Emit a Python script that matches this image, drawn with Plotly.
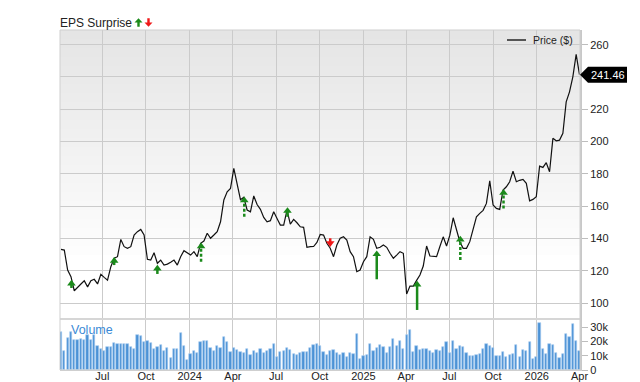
import plotly.graph_objects as go
import pandas as pd

# ---------------- data ----------------
dates = pd.date_range("2023-04-05", periods=157, freq="7D")

price = [
    133.2, 132.8, 120.4, 116.3, 107.6, 110.0, 111.8, 113.8, 110.0, 113.8,
    114.7, 111.8, 117.8, 115.9, 114.2, 122.5, 127.7, 128.7, 139.4, 134.9,
    133.9, 134.9, 142.1, 144.2, 145.6, 142.1, 127.1, 126.6, 131.1, 124.6,
    126.6, 123.5, 124.1, 125.2, 126.6, 123.5, 128.7, 132.4, 131.1, 129.7,
    131.8, 128.7, 137.0, 138.4, 143.2, 140.1, 142.1, 144.2, 150.3, 163.8,
    168.9, 171.0, 183.4, 173.0, 164.0, 165.5, 157.6, 156.5, 166.3, 161.0,
    158.0, 153.0, 150.3, 151.0, 156.5, 152.4, 148.3, 148.3, 157.6, 148.9,
    151.8, 149.7, 147.2, 146.9, 134.5, 134.9, 135.0, 137.5, 142.5, 142.1,
    137.0, 133.9, 128.7, 135.9, 140.1, 141.0, 139.0, 131.8, 128.7, 119.4,
    120.4, 125.6, 128.7, 141.0, 139.4, 133.9, 134.5, 135.9, 134.5, 130.8,
    127.7, 129.7, 131.8, 130.8, 105.6, 110.5, 110.5, 114.0, 117.3, 122.9,
    135.3, 129.1, 129.0, 128.7, 135.0, 141.0, 135.3, 142.0, 152.8, 145.2,
    138.0, 133.9, 133.9, 138.0, 146.3, 153.4, 155.5, 157.4, 161.7, 175.7,
    160.7, 158.6, 158.0, 170.0, 172.0, 175.1, 181.7, 175.1, 176.0, 176.6,
    174.1, 163.3, 164.2, 165.8, 184.8, 184.0, 186.9, 181.3, 202.0, 200.5,
    200.9, 205.1, 224.6, 230.8, 240.1, 254.0, 241.46,
]

volume_k = [
    26.3, 13.5, 22.4, 26.6, 21.2, 21.2, 21.9, 20.7, 24.2, 20.7,
    24.7, 16.5, 14.7, 13.1, 15.9, 15.9, 18.9, 18.2, 18.2, 18.2,
    18.2, 15.9, 14.7, 24.7, 23.5, 19.6, 20.0, 18.9, 14.7, 16.1,
    17.2, 13.5, 15.4, 8.4, 14.7, 14.7, 25.6, 17.0, 6.8, 11.2,
    13.3, 11.9,
    19.6, 20.0, 20.0, 15.4, 13.1, 16.5, 15.4, 23.1, 19.3, 12.4,
    15.6, 14.2, 12.6, 11.9, 14.9, 10.7, 13.3, 11.7, 14.5, 11.7,
    13.3, 14.5, 18.2, 9.1, 12.6, 13.1, 15.4, 14.2, 11.2, 10.7,
    11.9, 12.6, 12.6, 15.4, 17.2, 18.2, 16.8, 12.6, 10.7, 13.5,
    14.0,
    11.9, 10.5, 11.7, 9.3, 11.9, 11.4, 25.2, 7.7, 9.6, 10.3,
    18.2, 13.3, 15.4, 17.5, 15.9, 11.7, 16.3, 21.4, 16.8, 20.0,
    14.5, 24.5, 28.2, 12.8, 16.5, 14.2, 14.7, 14.7, 13.5, 11.9,
    14.0, 13.1, 15.9, 19.3, 11.7, 20.0,
    14.9, 16.5, 15.9, 11.9, 9.6, 9.6, 10.7, 11.2, 14.5, 18.2,
    16.8, 15.6, 9.6, 9.6, 12.8, 8.9, 10.7, 11.0, 17.7, 8.9,
    14.2, 13.1, 19.3, 7.7, 9.3, 32.9, 14.7, 11.4, 18.2, 17.7,
    12.1, 8.2, 11.4, 25.4, 22.8, 32.2, 20.5, 13.1,
]

# EPS surprise arrows: date, arrow head price, tail price, direction, dashed?
eps_dates = ["2023-04-27", "2023-07-26", "2023-10-25", "2024-01-25", "2024-04-25",
             "2024-07-25", "2024-10-23", "2025-01-29", "2025-04-24", "2025-07-24",
             "2025-10-23"]
eps_head = [114.2, 128.3, 123.5, 137.3, 165.8, 159.2, 134.9, 132.4, 113.6, 141.5, 170.4]
eps_tail = [109.3, 123.5, 118.0, 125.6, 153.4, 153.4, 140.1, 114.7, 95.7, 126.6, 158.6]
eps_dir = ["up", "up", "up", "up", "up", "up", "down", "up", "up", "up", "up"]
eps_dashed = [False, False, False, True, True, False, False, False, False, True, True]

x_tickvals = ["2023-07-01", "2023-10-01", "2024-01-01", "2024-04-01", "2024-07-01",
              "2024-10-01", "2025-01-01", "2025-04-01", "2025-07-01", "2025-10-01",
              "2026-01-01", "2026-04-01"]
x_ticktext = ["Jul", "Oct", "2024", "Apr", "Jul", "Oct", "2025", "Apr", "Jul", "Oct",
              "2026", "Apr"]
price_ticks = [100, 120, 140, 160, 180, 200, 220, 260]
price_hidden_grid = [240]
vol_ticks = [0, 10, 20, 30]
vol_ticktext = ["0", "10k", "20k", "30k"]

# ---------------- layout constants ----------------
W, H = 640, 382
ML, MR, MT, MB = 60, 60, 30, 12
PW, PH = W - ML - MR, H - MT - MB
VOL_TOP = 0.15
P_RANGE = [90.1, 269.1]
V_RANGE = [0, 35.7]
px_per_unit = PH * (1 - VOL_TOP) / (P_RANGE[1] - P_RANGE[0])
FONT = "Liberation Sans, Arial, sans-serif"
GREEN = "#1b8a1b"
RED = "#f01818"

fig = go.Figure()

fig.add_trace(go.Bar(
    x=dates, y=volume_k, yaxis="y2", xaxis="x",
    width=0.68 * 7 * 86400000,
    marker=dict(color="#4b92d6", line=dict(width=0.6, color="#a9cdf0")),
    hoverinfo="skip",
))

fig.add_trace(go.Scatter(
    x=dates, y=price, mode="lines", xaxis="x", yaxis="y",
    line=dict(color="#111111", width=1.2),
))

# EPS arrows
head_off = 3.5 / px_per_unit
for d, hd, tl, dr, dsh in zip(eps_dates, eps_head, eps_tail, eps_dir, eps_dashed):
    col = GREEN if dr == "up" else RED
    center = hd - head_off if dr == "up" else hd + head_off
    fig.add_trace(go.Scatter(
        x=[d, d], y=[tl, center], mode="lines", xaxis="x", yaxis="y",
        line=dict(color=col, width=2.5, dash="3px,2px" if dsh else "solid"),
    ))
    fig.add_trace(go.Scatter(
        x=[d], y=[center], mode="markers", xaxis="x", yaxis="y",
        marker=dict(symbol="triangle-up" if dr == "up" else "triangle-down",
                    size=7.5, color=col, line=dict(width=0)),
    ))

shapes = []
# background gradient in price pane
n_bands = 26
for k in range(n_bands):
    y_top = MT + k * 9
    y_bot = y_top + 9
    g = int(229 + (255 - 229) * k / (n_bands - 1))
    shapes.append(dict(type="rect", xref="paper", yref="paper", layer="below",
                       x0=0, x1=1,
                       y0=(H - MB - y_bot) / PH, y1=(H - MB - y_top) / PH,
                       fillcolor=f"rgb({g},{g},{g})", line=dict(width=0)))
# pane separator
shapes.append(dict(type="line", xref="paper", yref="paper", x0=0, x1=1,
                   y0=VOL_TOP, y1=VOL_TOP, line=dict(color="#d6d6d6", width=2)))
# outer border
shapes.append(dict(type="rect", xref="paper", yref="paper", x0=0, x1=1, y0=0, y1=1,
                   line=dict(color="#cfcfcf", width=1)))
# legend line
shapes.append(dict(type="line", xref="paper", yref="paper",
                   x0=(507 - ML) / PW, x1=(526 - ML) / PW,
                   y0=(H - MB - 40) / PH, y1=(H - MB - 40) / PH,
                   line=dict(color="#555555", width=2)))
# EPS Surprise legend arrows (pixel paths from plot top-left)
gx, rx = 78.5, 88.5
shapes.append(dict(type="path", xref="paper", yref="paper", xsizemode="pixel",
                   ysizemode="pixel", xanchor=0, yanchor=1,
                   path=f"M{gx-4},7.5 L{gx+4},7.5 L{gx},11.7 Z M{gx-1.2},7.5 L{gx+1.2},7.5 L{gx+1.2},3.3 L{gx-1.2},3.3 Z",
                   fillcolor=GREEN, line=dict(width=0)))
shapes.append(dict(type="path", xref="paper", yref="paper", xsizemode="pixel",
                   ysizemode="pixel", xanchor=0, yanchor=1,
                   path=f"M{rx-4},7.5 L{rx+4},7.5 L{rx},3.3 Z M{rx-1.2},7.5 L{rx+1.2},7.5 L{rx+1.2},11.7 L{rx-1.2},11.7 Z",
                   fillcolor=RED, line=dict(width=0)))
# last price tag
last = price[-1]
last_paper = VOL_TOP + (1 - VOL_TOP) * (last - P_RANGE[0]) / (P_RANGE[1] - P_RANGE[0])
shapes.append(dict(type="path", xref="paper", yref="paper", xsizemode="pixel",
                   ysizemode="pixel", xanchor=1, yanchor=last_paper,
                   path="M0,0 L8,8 L47,8 L47,-8 L8,-8 Z",
                   fillcolor="#000000", line=dict(width=0), layer="above"))

annotations = [
    dict(text="EPS Surprise", xref="paper", yref="paper", x=0, y=(H - MB - 22.5) / PH,
         xanchor="left", yanchor="middle", showarrow=False, xshift=-2,
         font=dict(family=FONT, size=12, color="#222222")),
    dict(text="Price ($)", xref="paper", yref="paper", x=(531 - ML) / PW,
         y=(H - MB - 40) / PH, xanchor="left", yanchor="middle", showarrow=False,
         font=dict(family=FONT, size=10.5, color="#222222")),
    dict(text="Volume", xref="paper", yref="paper", x=(69 - ML) / PW,
         y=(H - MB - 330) / PH, xanchor="left", yanchor="middle", showarrow=False,
         font=dict(family=FONT, size=12.5, color="#3a8ad6")),
    dict(text=f"{last:.2f}", xref="paper", yref="paper", x=1, y=last_paper,
         xanchor="left", yanchor="middle", xshift=9, showarrow=False,
         font=dict(family=FONT, size=11, color="#ffffff")),
]

fig.update_layout(
    width=W, height=H,
    margin=dict(l=ML, r=MR, t=MT, b=MB, pad=0, autoexpand=False),
    paper_bgcolor="#ffffff", plot_bgcolor="rgba(0,0,0,0)",
    showlegend=False, bargap=0,
    font=dict(family=FONT, size=11, color="#222222"),
    xaxis=dict(domain=[0, 1], anchor="y2", type="date", automargin=False,
               range=["2023-04-02 22:00", "2026-04-02 02:00"],
               tickvals=x_tickvals, ticktext=x_ticktext, ticks="", ticklen=0,
               ticklabelstandoff=-4,
               showgrid=True, gridcolor="#cbcbcb", gridwidth=1,
               showline=True, linecolor="#cfcfcf", linewidth=1, zeroline=False,
               tickfont=dict(family=FONT, size=11, color="#222222")),
    yaxis=dict(domain=[VOL_TOP, 1], anchor="x", side="right", range=P_RANGE,
               automargin=False,
               tickvals=price_ticks, ticks="outside", ticklen=6, tickcolor="#bdbdbd",
               showgrid=True, gridcolor="#cbcbcb", gridwidth=1,
               minor=dict(tickvals=price_hidden_grid, showgrid=True,
                          gridcolor="#cbcbcb", gridwidth=1, ticks=""),
               showline=True, linecolor="#c8c8c8", linewidth=2, zeroline=False,
               tickfont=dict(family=FONT, size=11, color="#222222")),
    yaxis2=dict(domain=[0, VOL_TOP], anchor="x", side="right", range=V_RANGE,
                automargin=False,
                tickvals=vol_ticks, ticktext=vol_ticktext, ticks="outside", ticklen=6,
                tickcolor="#bdbdbd", showgrid=False,
                showline=True, linecolor="#c8c8c8", linewidth=2, zeroline=False,
                tickfont=dict(family=FONT, size=11, color="#222222")),
    shapes=shapes,
    annotations=annotations,
)

fig.write_html("out.html")
